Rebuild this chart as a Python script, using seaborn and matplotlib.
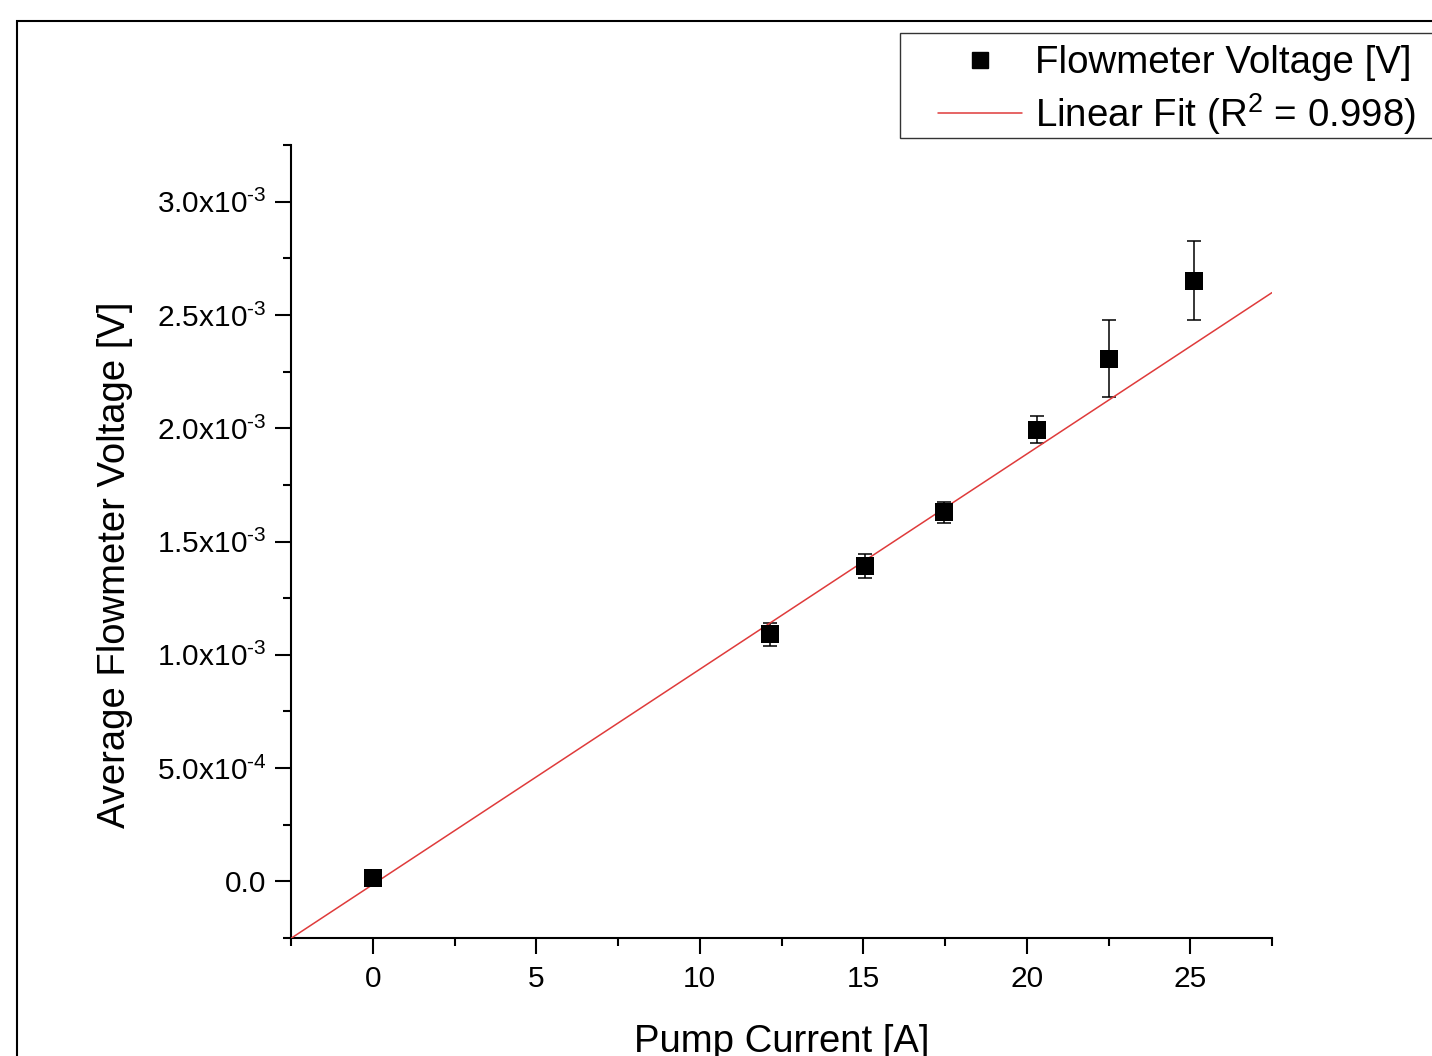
import numpy as np
import pandas as pd
import seaborn as sns
import matplotlib
matplotlib.use("Agg")
import matplotlib.pyplot as plt
from matplotlib.patches import Rectangle
from matplotlib.lines import Line2D
from matplotlib.ticker import FuncFormatter, MultipleLocator

# Measurements: pump current [A] vs. average flowmeter voltage [V]
pump_current = [0.0, 12.15, 15.06, 17.47, 20.32, 22.52, 25.12]
avg_voltage = [1.3e-5, 1.090e-3, 1.390e-3, 1.628e-3, 1.994e-3, 2.307e-3, 2.651e-3]
voltage_err = [0.0, 5.0e-5, 5.3e-5, 4.5e-5, 6.0e-5, 1.70e-4, 1.74e-4]

# Weighted linear fit parameters
fit_slope = 9.50e-5
fit_intercept = -1.4e-5
fit_r2 = 0.998

x_range = (-2.5, 27.5)
y_range = (-2.5e-4, 3.25e-3)

sns.set_theme(style="ticks")
plt.rcParams["font.family"] = ["Liberation Sans", "DejaVu Sans"]
plt.rcParams["mathtext.fontset"] = "custom"
plt.rcParams["mathtext.rm"] = "Liberation Sans"
plt.rcParams["mathtext.it"] = "Liberation Sans:italic"
plt.rcParams["mathtext.bf"] = "Liberation Sans:bold"
for key in ("text.color", "axes.labelcolor", "xtick.color", "ytick.color",
            "xtick.labelcolor", "ytick.labelcolor"):
    plt.rcParams[key] = "black"

W, H = 1432, 1056
fig = plt.figure(figsize=(W / 100, H / 100), dpi=100, facecolor="white")
ax = fig.add_axes([291 / W, 1 - 938 / H, (1272 - 291) / W, (938 - 145) / H])
ax.set_facecolor("white")

df = pd.DataFrame({"current": pump_current, "voltage": avg_voltage, "err": voltage_err})
fit_color = "#df3b3b"

# error bars
ax.errorbar(df["current"], df["voltage"], yerr=df["err"], fmt="none",
            ecolor="black", elinewidth=1.1, capsize=5, capthick=1.1, zorder=2)

# fit line across the full x range
fit_x = np.linspace(x_range[0], x_range[1], 2)
fit_df = pd.DataFrame({"current": fit_x, "voltage": fit_intercept + fit_slope * fit_x})
sns.lineplot(data=fit_df, x="current", y="voltage", ax=ax, color=fit_color,
             linewidth=1.1, zorder=3, legend=False)

# data points
sns.scatterplot(data=df, x="current", y="voltage", ax=ax, marker="s", s=150,
                color="black", edgecolor="black", linewidth=0, zorder=4, legend=False)

ax.set_xlim(*x_range)
ax.set_ylim(*y_range)

ax.xaxis.set_major_locator(MultipleLocator(5))
ax.xaxis.set_minor_locator(MultipleLocator(2.5))
ax.yaxis.set_major_locator(MultipleLocator(5e-4))
ax.yaxis.set_minor_locator(MultipleLocator(2.5e-4))


def sci_fmt(v, pos):
    if abs(v) < 1e-12:
        return "0.0"
    e = int(np.floor(np.log10(abs(v)) + 1e-9))
    m = v / 10 ** e
    return f"{m:.1f}x10$^{{\\text{{{e}}}}}$"


ax.yaxis.set_major_formatter(FuncFormatter(sci_fmt))

sns.despine(ax=ax)
for s in ("left", "bottom"):
    ax.spines[s].set_linewidth(1.5)
    ax.spines[s].set_color("black")

ax.tick_params(axis="both", which="major", direction="out", length=11.5, width=1.5,
               color="black", labelsize=21.5, labelcolor="black")
ax.tick_params(axis="both", which="minor", direction="out", length=6, width=1.5, color="black")
ax.tick_params(axis="y", which="major", pad=6)
ax.tick_params(axis="x", which="major", pad=8)

ax.set_xlabel("Pump Current [A]", fontsize=27.5, color="black")
ax.set_ylabel("Average Flowmeter Voltage [V]", fontsize=27.5, color="black")
ax.xaxis.set_label_coords(0.5, (938 - 1024) / (938 - 145))
ax.yaxis.set_label_coords((133 - 291) / (1272 - 291), (938 - 565) / (938 - 145))

# legend box
fig.add_artist(Rectangle((900 / W, 1 - 138 / H), 0.5, 105 / H, transform=fig.transFigure,
                         facecolor="white", edgecolor="#333333", linewidth=1.0, zorder=5))
handles = [
    Line2D([], [], marker="s", color="black", linestyle="none", markersize=12),
    Line2D([], [], color=fit_color, linewidth=1.1),
]
labels = ["Flowmeter Voltage [V]", f"Linear Fit (R$^{{2}}$ = {fit_r2:.3f})"]
leg = fig.legend(handles, labels, loc="upper left",
                 bbox_to_anchor=(938 / W, 1 - 45 / H), bbox_transform=fig.transFigure,
                 frameon=False, fontsize=27.7, handlelength=2.18, handletextpad=0.34,
                 labelspacing=0.26, borderpad=0, borderaxespad=0)
leg.set_zorder(6)

# outer frame
fig.add_artist(Rectangle((17 / W, -0.1), 1.2, (1056 - 21) / H + 0.1, transform=fig.transFigure,
                         facecolor="none", edgecolor="black", linewidth=1.5, zorder=0))

fig.savefig("out.png", dpi=100, facecolor="white")
